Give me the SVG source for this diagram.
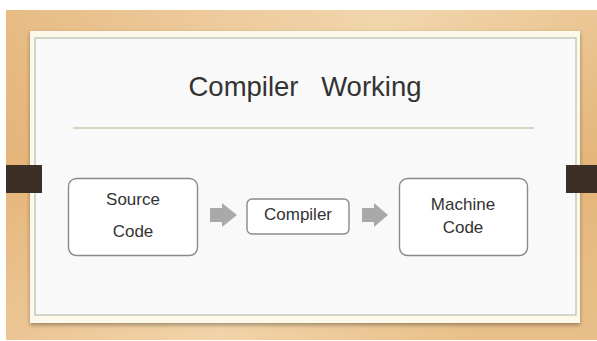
<svg xmlns="http://www.w3.org/2000/svg" width="597" height="341" viewBox="0 0 597 341">
  <defs>
    <linearGradient id="wood" x1="0" y1="0" x2="1" y2="0.3">
      <stop offset="0" stop-color="#e3af6f"/>
      <stop offset="0.3" stop-color="#eac08a"/>
      <stop offset="0.6" stop-color="#efcf9f"/>
      <stop offset="1" stop-color="#e6b87c"/>
    </linearGradient>
    <linearGradient id="grain" x1="0" y1="0" x2="0" y2="1">
      <stop offset="0" stop-color="#ffffff" stop-opacity="0.15"/>
      <stop offset="0.5" stop-color="#d9a565" stop-opacity="0.15"/>
      <stop offset="1" stop-color="#ffffff" stop-opacity="0.1"/>
    </linearGradient>
    <filter id="shadow" x="-5%" y="-5%" width="110%" height="115%">
      <feGaussianBlur in="SourceAlpha" stdDeviation="2"/>
      <feOffset dx="0" dy="2" result="b"/>
      <feComponentTransfer><feFuncA type="linear" slope="0.35"/></feComponentTransfer>
      <feMerge><feMergeNode/><feMergeNode in="SourceGraphic"/></feMerge>
    </filter>
  </defs>
  <style>
    .node rect { fill: #ffffff; stroke: #8a8a8a; stroke-width: 1.4; }
    .lbl { font-family: "Liberation Sans", Arial, sans-serif; font-size: 17px; fill: #333333; text-anchor: middle; }
    .arrow { fill: #a9a9a9; }
    .tab { fill: #3b2f26; }
  </style>
  <rect x="0" y="0" width="597" height="341" fill="#ffffff"/>
  <rect x="6" y="10" width="591" height="330" fill="url(#wood)"/>
  <rect x="6" y="10" width="591" height="330" fill="url(#grain)"/>

  <g id="panel">
    <rect x="30" y="31" width="550" height="292" fill="#fdf9ea" filter="url(#shadow)"/>
    <rect x="35" y="38" width="541" height="277" fill="#f9f9f9" stroke="#c4cabb" stroke-width="1.5"/>
  </g>

  <g id="tabs">
    <rect class="tab" x="6" y="165" width="36" height="28"/>
    <rect class="tab" x="566" y="165" width="31" height="28"/>
  </g>

  <g id="title">
    <text x="305" y="96" font-family="Liberation Sans, Arial, sans-serif" font-size="27.5" fill="#333333" text-anchor="middle" word-spacing="15">Compiler Working</text>
    <line x1="73" y1="128" x2="534" y2="128" stroke="#cdc9a6" stroke-width="1.5"/>
  </g>

  <g id="connectors">
    <path class="arrow" d="M210,208 H222 V203 L237,215 L222,227 V222 H210 Z"/>
    <path class="arrow" d="M362,208 H374 V203 L388,215 L374,227 V222 H362 Z"/>
  </g>

  <g id="node-source" class="node">
    <rect x="68.5" y="178.5" width="129" height="77" rx="8"/>
    <text class="lbl" x="133" y="205">Source</text>
    <text class="lbl" x="133" y="237">Code</text>
  </g>

  <g id="node-compiler" class="node">
    <rect x="247" y="199" width="102" height="35" rx="5"/>
    <text class="lbl" x="298" y="220">Compiler</text>
  </g>

  <g id="node-machine" class="node">
    <rect x="399.5" y="178.5" width="128" height="77" rx="8"/>
    <text class="lbl" x="463" y="210">Machine</text>
    <text class="lbl" x="463" y="233">Code</text>
  </g>
</svg>
